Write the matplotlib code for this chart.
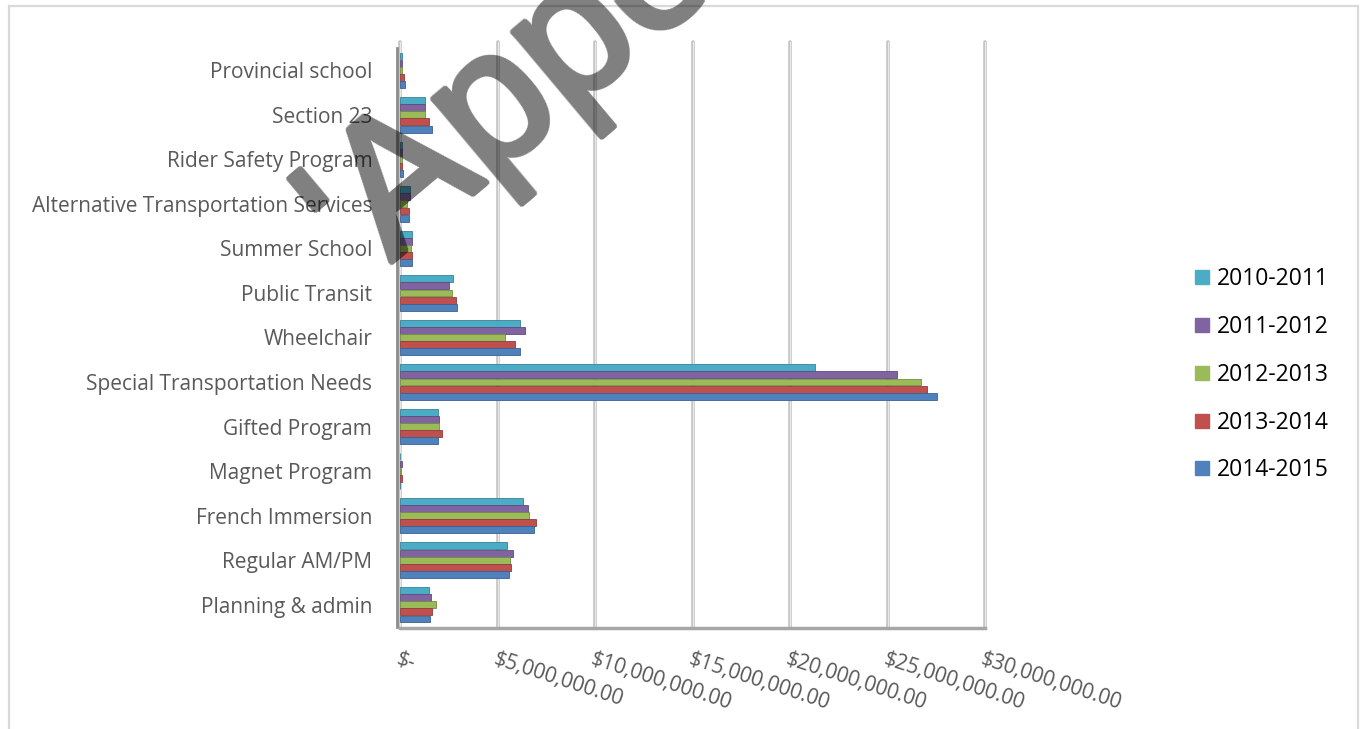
import matplotlib.pyplot as plt
import numpy as np
from matplotlib.lines import Line2D
from matplotlib.patches import Rectangle
from matplotlib.colors import to_rgb

plt.rcParams['font.family'] = ['Open Sans', 'DejaVu Sans']

# transport costs per program, in millions of dollars
categories = ["Provincial school", "Section 23", "Rider Safety Program",
              "Alternative Transportation Services", "Summer School", "Public Transit",
              "Wheelchair", "Special Transportation Needs", "Gifted Program",
              "Magnet Program", "French Immersion", "Regular AM/PM", "Planning & admin"]
years = ["2010-2011", "2011-2012", "2012-2013", "2013-2014", "2014-2015"]

y2010 = [0.08, 1.30, 0.10, 0.51, 0.60, 2.73, 6.15, 21.28, 1.93, 0.02, 6.32, 5.47, 1.50]
y2011 = [0.08, 1.30, 0.10, 0.51, 0.60, 2.53, 6.41, 25.47, 2.02, 0.08, 6.55, 5.78, 1.59]
y2012 = [0.08, 1.30, 0.10, 0.34, 0.58, 2.68, 5.36, 26.70, 2.02, 0.06, 6.62, 5.64, 1.83]
y2013 = [0.18, 1.49, 0.10, 0.46, 0.60, 2.87, 5.90, 27.04, 2.14, 0.10, 6.96, 5.69, 1.66]
y2014 = [0.25, 1.66, 0.15, 0.46, 0.62, 2.90, 6.15, 27.53, 1.96, 0.02, 6.89, 5.60, 1.54]
series = [y2010, y2011, y2012, y2013, y2014]

colors = ["#4BACC6", "#8064A2", "#9BBB59", "#C0504D", "#4F81BD"]

xticks = [0, 5, 10, 15, 20, 25, 30]
xlabels = ["$-", "$5,000,000.00", "$10,000,000.00", "$15,000,000.00",
           "$20,000,000.00", "$25,000,000.00", "$30,000,000.00"]


def heavy_shade(img, dpi, r=3):
    # fatten the glyphs a little, then lay them down as a 50% dark wash
    p = np.pad(img[..., 3], r)
    out = np.zeros_like(p)
    for dy in range(-r, r + 1):
        for dx in range(-r, r + 1):
            if dx * dx + dy * dy <= r * r + 1:
                out = np.maximum(out, np.roll(np.roll(p, dy, 0), dx, 1))
    res = np.zeros(out.shape + (4,))
    res[..., 3] = out * 0.5
    return res, -r, -r


W, H = 1371, 729
fig = plt.figure(figsize=(W / 100, H / 100), dpi=100)
ax = fig.add_axes([400 / W, 1 - 627 / H, 585 / W, 579 / H])

# back-wall gridlines with a bit of bevel
for x in xticks:
    ax.plot([x, x], [0, 1.01], transform=ax.get_xaxis_transform(), color="#c4c4c4",
            lw=2.6, clip_on=False, zorder=0.5, solid_capstyle="round")
    ax.plot([x, x], [0, 1.01], transform=ax.get_xaxis_transform(), color="#e9e9e9",
            lw=0.8, clip_on=False, zorder=0.6)

ypos = np.arange(len(categories))
bh = 0.155
for k, vals in enumerate(series):
    c = np.array(to_rgb(colors[k]))
    ax.barh(ypos + (k - 2) * 0.16, vals, height=bh, color=colors[k],
            edgecolor=c * 0.75, linewidth=0.6, zorder=2)

ax.set_xlim(0, 30)
ax.set_ylim(len(categories) - 0.5, -0.5)

for s in ["top", "right"]:
    ax.spines[s].set_visible(False)
ax.spines["left"].set_position(("outward", 2))
ax.spines["left"].set_color("#8c8c8c")
ax.spines["left"].set_linewidth(2)
ax.spines["bottom"].set_position(("outward", 1))
ax.spines["bottom"].set_color("#a6a6a6")
ax.spines["bottom"].set_linewidth(2.5)

# ticks go after the spines, moving a spine rebuilds the ticks
ax.set_yticks(ypos, categories)
ax.tick_params(axis="y", length=0, pad=18, labelsize=15, labelcolor="#595959")
ax.set_xticks(xticks, xlabels)
ax.tick_params(axis="x", length=0, pad=15, labelsize=15, labelcolor="#595959")
for t in ax.get_xticklabels():
    t.set_rotation(-18)
    t.set_rotation_mode("anchor")
    t.set_ha("left")
    t.set_va("top")

handles = [Line2D([], [], marker="s", ls="", markersize=10, color=c) for c in colors]
fig.legend(handles, years, loc="upper left", bbox_to_anchor=(1183 / W, 1 - 258 / H),
           frameon=False, fontsize=16.5, labelspacing=1.04, handletextpad=0.2,
           handlelength=0.9, borderaxespad=0)

# outer chart border
fig.patches.append(Rectangle((9 / W, -0.05), 1349 / W, 1 - 6 / H + 0.05,
                             transform=fig.transFigure, fill=False,
                             edgecolor="#d9d9d9", lw=1.6))

# watermark
wm = fig.text(363 / W, 1 - 278 / H, "'Appendix", rotation=40, rotation_mode="anchor",
              ha="left", va="baseline", fontsize=135, color="black",
              family="Liberation Sans", zorder=10)
wm.set_agg_filter(heavy_shade)

fig.savefig("out.png", dpi=100)
